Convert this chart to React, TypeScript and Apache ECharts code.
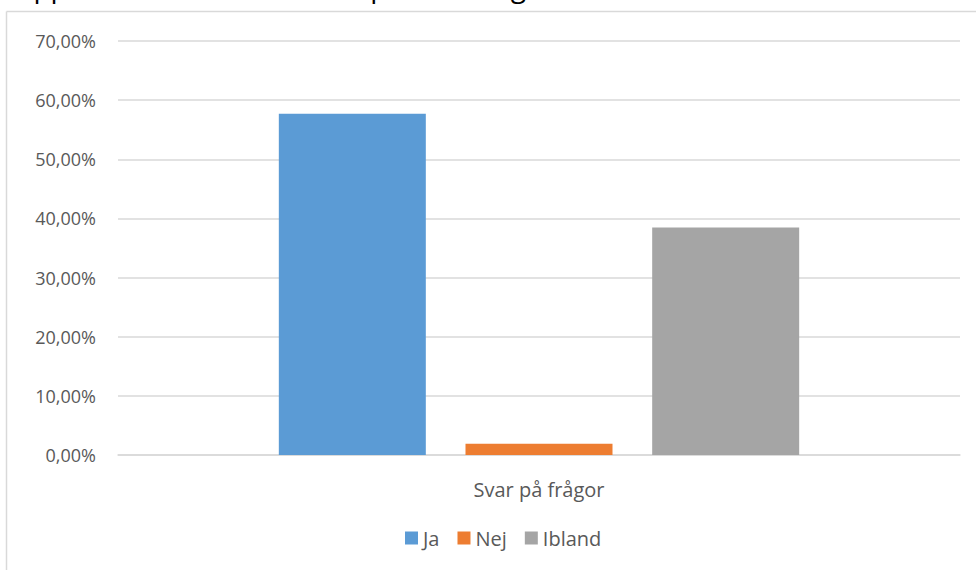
import React, { useEffect, useRef } from "react";
import * as echarts from "echarts";

const TITLE = "Upplever du att du får svar på dina frågor?";
const categories = ["Svar på frågor"];
const seriesNames = ["Ja", "Nej", "Ibland"];
const seriesValues = [[57.69], [1.92], [38.46]];
const seriesColors = ["#5B9BD5", "#ED7D31", "#A5A5A5"];
const yMin = 0;
const yMax = 70;
const yInterval = 10;

const FONT = "'Open Sans', sans-serif";

export default function App() {
  const ref = useRef<HTMLDivElement>(null);
  useEffect(() => {
    if (!ref.current) return;
    const chart = echarts.init(ref.current, undefined, { renderer: "svg" });
    chart.setOption({
      animation: false,
      backgroundColor: "#ffffff",
      textStyle: { fontFamily: FONT },
      graphic: [
        {
          type: "line",
          shape: { x1: 6.5, y1: 11.5, x2: 976, y2: 11.5 },
          style: { stroke: "#D9D9D9", lineWidth: 1.5 },
          silent: true,
        },
        {
          type: "line",
          shape: { x1: 6.5, y1: 11.5, x2: 6.5, y2: 570 },
          style: { stroke: "#D9D9D9", lineWidth: 1.5 },
          silent: true,
        },
        {
          type: "text",
          x: 13,
          y: 0,
          style: {
            text: TITLE,
            fontFamily: FONT,
            fontSize: 28,
            fill: "#000000",
            verticalAlign: "bottom",
            align: "left",
          },
          silent: true,
        },
      ],
      grid: { left: 118, right: 16, top: 41, bottom: 115, containLabel: false },
      legend: {
        bottom: 17,
        left: 400,
        itemWidth: 13,
        itemHeight: 13,
        itemGap: 18,
        icon: "rect",
        textStyle: { fontFamily: FONT, fontSize: 20, color: "#595959" },
        data: seriesNames,
      },
      xAxis: {
        type: "category",
        data: categories,
        axisLine: { lineStyle: { color: "#D9D9D9", width: 1.5 } },
        axisTick: { show: false },
        axisLabel: { fontFamily: FONT, fontSize: 20, color: "#595959", margin: 24 },
      },
      yAxis: {
        type: "value",
        min: yMin,
        max: yMax,
        interval: yInterval,
        axisLine: { show: false },
        axisTick: { show: false },
        splitLine: { lineStyle: { color: "#D9D9D9", width: 1.5 } },
        axisLabel: {
          fontFamily: FONT,
          fontSize: 18,
          color: "#595959",
          margin: 22,
          formatter: (v: number) => v.toFixed(2).replace(".", ",") + "%",
        },
      },
      series: seriesNames.map((name, i) => ({
        name,
        type: "bar",
        data: seriesValues[i],
        itemStyle: { color: seriesColors[i] },
        barGap: "27%",
        barCategoryGap: "38.2%",
      })),
    });
    return () => chart.dispose();
  }, []);
  return (
    <div
      ref={ref}
      style={{ position: "absolute", left: 0, top: 0, width: 976, height: 570 }}
    />
  );
}
